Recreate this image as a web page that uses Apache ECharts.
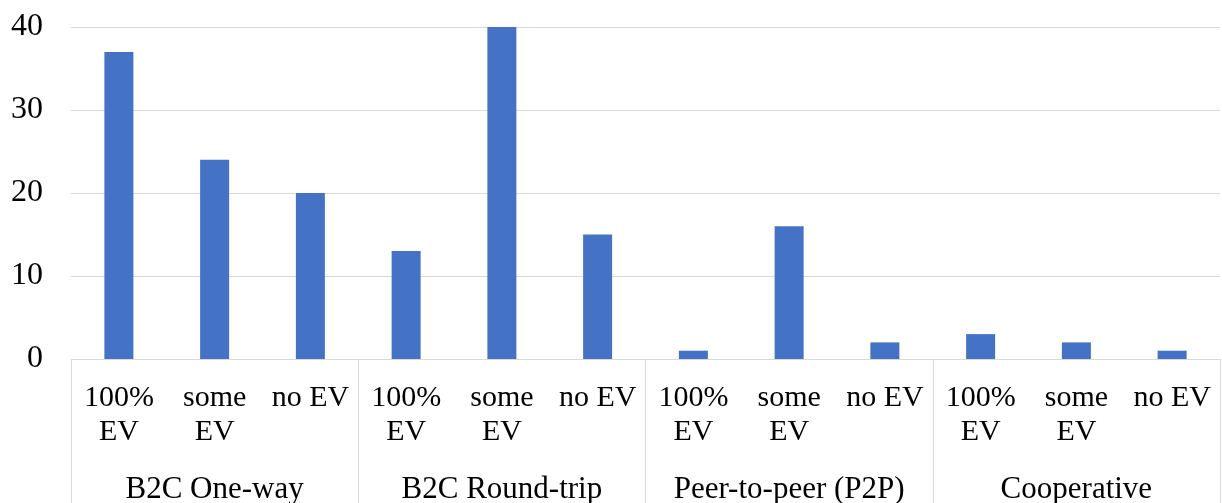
<!DOCTYPE html>
<html>
<head>
<meta charset="utf-8">
<script src="https://cdn.jsdelivr.net/npm/echarts@6/dist/echarts.min.js"></script>
<style>
  html, body { margin: 0; padding: 0; background: #fff; }
  #chart { width: 1222px; height: 503px; }
</style>
</head>
<body>
<div id="chart"></div>
<script>
// sub categories (inner axis level)
const subLabels = [
  "100%\nEV", "some\nEV", "no EV",
  "100%\nEV", "some\nEV", "no EV",
  "100%\nEV", "some\nEV", "no EV",
  "100%\nEV", "some\nEV", "no EV"
];
// outer groups
const groups = ["B2C One-way", "B2C Round-trip", "Peer-to-peer (P2P)", "Cooperative"];
// bar values
const counts = [37, 24, 20, 13, 40, 15, 1, 16, 2, 3, 2, 1];
const yTicks = [0, 10, 20, 30, 40];

const font = "'Liberation Serif', 'Times New Roman', serif";
const gridColor = "#d9d9d9";

let chart = echarts.init(document.getElementById("chart"));
let option = {
  animation: false,
  grid: {
    left: 71,
    right: 2,
    top: 27,
    bottom: 144,
    containLabel: false,
    outerBoundsMode: "none"
  },
  xAxis: [
    {
      type: "category",
      data: subLabels,
      position: "bottom",
      axisLine: { show: true, lineStyle: { color: gridColor, width: 1 } },
      axisTick: { show: false },
      axisLabel: {
        interval: 0,
        margin: 22,
        color: "#000",
        fontFamily: font,
        fontSize: 30,
        lineHeight: 34
      }
    },
    {
      type: "category",
      data: groups,
      position: "bottom",
      offset: 0,
      axisLine: { show: false },
      axisTick: {
        show: true,
        alignWithLabel: false,
        length: 150,
        lineStyle: { color: gridColor, width: 1 }
      },
      axisLabel: {
        interval: 0,
        margin: 113,
        color: "#000",
        fontFamily: font,
        fontSize: 31,
        lineHeight: 35
      }
    }
  ],
  yAxis: {
    type: "value",
    min: yTicks[0],
    max: yTicks[yTicks.length - 1],
    interval: 10,
    axisLine: { show: false },
    axisTick: { show: false },
    splitLine: { lineStyle: { color: gridColor, width: 1 } },
    axisLabel: {
      margin: 28,
      color: "#000",
      fontFamily: font,
      fontSize: 32
    }
  },
  series: [
    {
      type: "bar",
      xAxisIndex: 0,
      data: counts,
      barWidth: 29,
      itemStyle: { color: "#4472c4" }
    }
  ]
};
chart.setOption(option);
</script>
</body>
</html>
